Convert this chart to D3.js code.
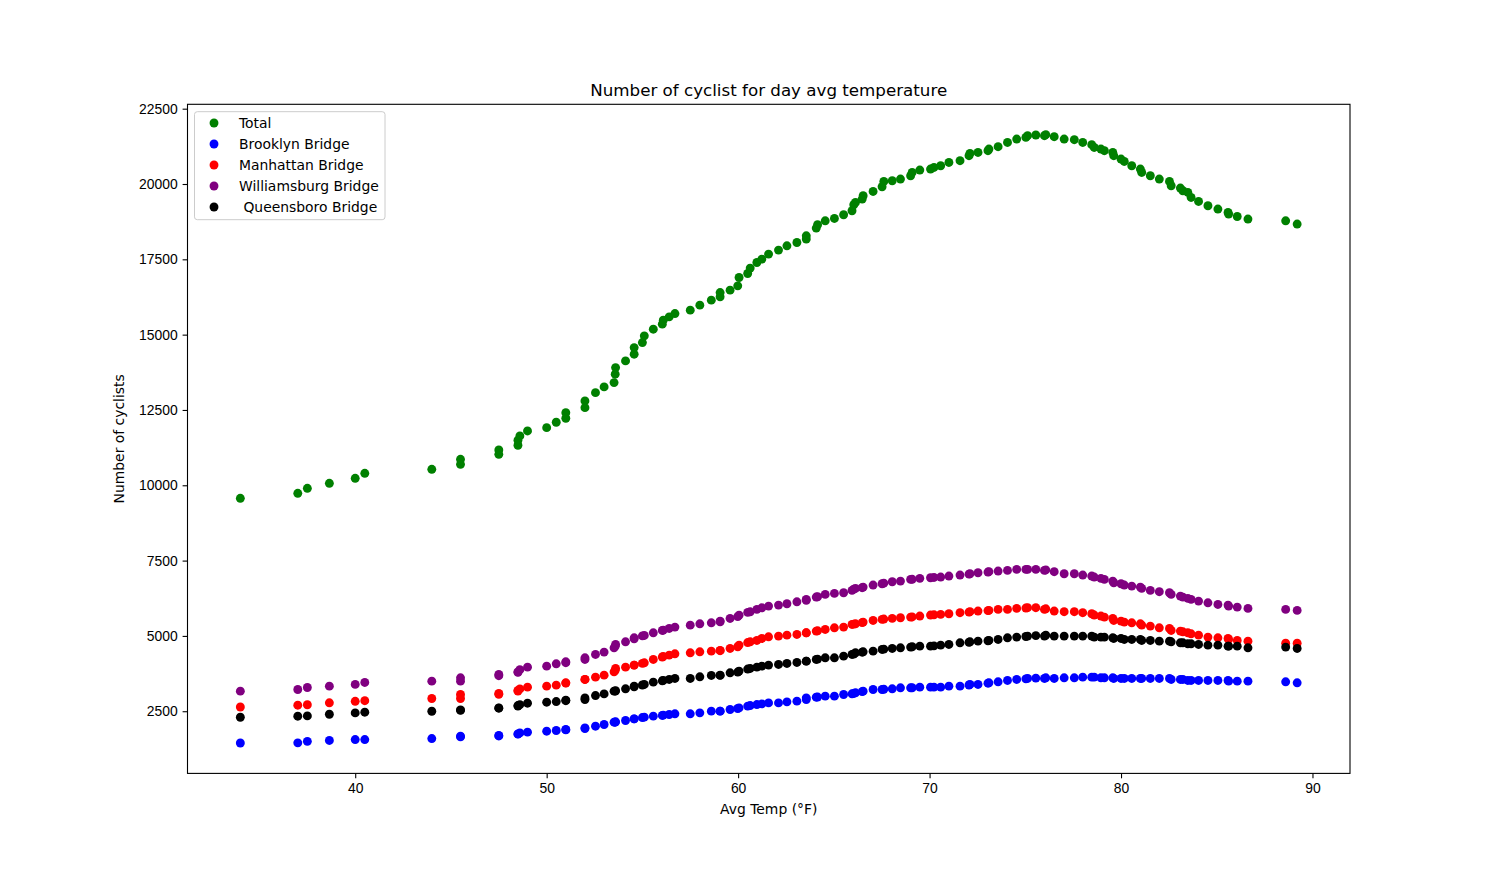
<!DOCTYPE html>
<html lang="en">
<head>
	<meta charset="UTF-8">
	<title>Number of cyclist for day avg temperature</title>
	<style>
		body{margin:0; background:#fff;}
		svg{display:block; font-family:"DejaVu Sans", sans-serif;}
		.tick text{font-size:13.9px; fill:#000;}
		.tick line{stroke:#000; stroke-width:1.1px;}
		.domain{display:none;}
		.legend text{font-size:13.9px; white-space:pre;}
	</style>
</head>
<body>
<div id="chart"></div>
<script src="https://d3js.org/d3.v7.min.js"></script>
<script>
	// values
	var temps = [34, 37, 37.5, 38.65, 40, 40.5, 44, 45.5, 45.5, 47.5, 47.5, 48.5, 48.5, 48.6, 49, 50, 50.5, 51, 51,
		52, 52, 52.55, 53, 53.52, 53.58, 53.6, 54.12, 54.57, 54.57, 55, 55.1, 55.57, 56.04, 56.09, 56.4, 56.7,
		57.5, 58, 58.6, 59.06, 59.06, 59.58, 59.98, 60.05, 60.5, 60.63, 60.98, 61.24, 61.59, 62.11, 62.55, 63.07,
		63.56, 63.56, 64.08, 64.15, 64.55, 65.03, 65.51, 65.95, 66.04, 66.13, 66.48, 66.53, 67.05, 67.52, 67.61,
		68.05, 68.48, 69.01, 69.09, 69.49, 70.05, 70.23, 70.58, 71.01, 71.59, 72.06, 72.11, 72.53, 73.05, 73.1,
		73.58, 74.07, 74.55, 75.03, 75.12, 75.55, 76, 76.07, 76.51, 77.03, 77.56, 78, 78.47, 78.6, 78.95, 79.13,
		79.57, 79.62, 80, 80.17, 80.56, 81.01, 81.08, 81.53, 82, 82.53, 82.62, 83.1, 83.23, 83.49, 83.66, 84.05,
		84.54, 85.06, 85.59, 85.62, 86.07, 86.63, 88.6, 89.2];

	var total = [9567, 9733, 9900, 10066, 10232, 10398, 10531, 10697, 10863, 11029, 11172, 11328, 11494, 11637, 11803, 11913, 12092, 12225, 12411,
		12577, 12800, 13075, 13265, 13408, 13687, 13906, 14129, 14351, 14570, 14737, 14959, 15181, 15348, 15481, 15590, 15700,
		15813, 15979, 16145, 16255, 16397, 16477, 16620, 16896, 17029, 17208, 17394, 17507, 17673, 17806, 17949, 18059,
		18171, 18281, 18537, 18647, 18779, 18856, 18979, 19112, 19311, 19387, 19500, 19610, 19753, 19909, 20085,
		20108, 20165, 20274, 20384, 20464, 20497, 20550, 20606, 20716, 20773, 20939, 21015, 21048, 21105, 21161,
		21238, 21380, 21493, 21547, 21603, 21626, 21603, 21636, 21570, 21493, 21470, 21380, 21304, 21214, 21161, 21105,
		21048, 20939, 20829, 20749, 20606, 20497, 20384, 20274, 20165, 20085, 19942, 19866, 19776, 19720, 19553, 19421,
		19278, 19168, 19055, 19002, 18922, 18836, 18779, 18670];

	var brooklyn = [1446, 1450, 1500, 1530, 1560, 1560, 1594, 1650, 1672, 1680, 1694, 1740, 1749, 1780, 1805, 1838, 1860, 1880, 1893,
		1926, 1948, 2003, 2059, 2136, 2136, 2150, 2192, 2247, 2247, 2290, 2303, 2336, 2360, 2370, 2392, 2414,
		2414, 2447, 2502, 2502, 2502, 2558, 2590, 2611, 2670, 2689, 2722, 2744, 2777, 2777, 2811, 2834,
		2889, 2944, 2966, 2970, 3000, 3000, 3056, 3078, 3090, 3111, 3150, 3166, 3222, 3222, 3230,
		3244, 3277, 3277, 3280, 3299, 3299, 3300, 3299, 3333, 3333, 3370, 3389, 3389, 3430, 3444,
		3477, 3522, 3555, 3575, 3588, 3600, 3588, 3610, 3588, 3610, 3610, 3632, 3632, 3632, 3610, 3610,
		3610, 3588, 3588, 3588, 3588, 3588, 3588, 3588, 3588, 3588, 3555, 3555, 3555, 3522, 3522, 3522,
		3522, 3522, 3522, 3499, 3499, 3499, 3477, 3444];

	var manhattan = [2640, 2700, 2715, 2780, 2830, 2850, 2922, 2922, 3056, 3060, 3089, 3170, 3189, 3240, 3300, 3333, 3366, 3433, 3444,
		3555, 3555, 3632, 3698, 3809, 3860, 3920, 3964, 4031, 4031, 4090, 4108, 4219, 4300, 4319, 4362, 4407,
		4440, 4473, 4495, 4510, 4518, 4584, 4640, 4695, 4780, 4805, 4849, 4915, 4970, 4993, 5026, 5048,
		5103, 5103, 5159, 5170, 5215, 5270, 5292, 5381, 5390, 5403, 5440, 5459, 5514, 5548, 5560,
		5581, 5603, 5625, 5630, 5659, 5692, 5700, 5714, 5736, 5770, 5790, 5803, 5825, 5840, 5847,
		5880, 5880, 5914, 5925, 5936, 5936, 5880, 5900, 5825, 5803, 5803, 5770, 5736, 5692, 5659, 5625,
		5581, 5514, 5492, 5459, 5436, 5403, 5359, 5325, 5270, 5248, 5181, 5159, 5137, 5103, 5070, 5026,
		4960, 4937, 4915, 4882, 4849, 4827, 4760, 4760];

	var williamsburg = [3166, 3222, 3288, 3333, 3390, 3455, 3499, 3499, 3610, 3680, 3721, 3790, 3808, 3880, 3964, 3997, 4075, 4110, 4141,
		4218, 4274, 4385, 4462, 4605, 4660, 4716, 4804, 4904, 4937, 5000, 5016, 5103, 5181, 5190, 5247, 5292,
		5358, 5402, 5436, 5470, 5492, 5580, 5640, 5690, 5780, 5800, 5880, 5933, 5990, 6023, 6067, 6133,
		6180, 6213, 6290, 6300, 6378, 6411, 6433, 6511, 6550, 6578, 6600, 6621, 6688, 6732, 6750,
		6798, 6820, 6876, 6880, 6910, 6931, 6940, 6954, 6987, 7020, 7050, 7064, 7097, 7120, 7131,
		7153, 7175, 7208, 7208, 7208, 7208, 7175, 7190, 7131, 7064, 7064, 7020, 6987, 6954, 6910, 6876,
		6820, 6765, 6732, 6688, 6654, 6621, 6578, 6511, 6467, 6433, 6378, 6322, 6289, 6245, 6212, 6156,
		6100, 6045, 6023, 5990, 5956, 5914, 5880, 5847];

	var queensboro = [2300, 2335, 2345, 2400, 2444, 2467, 2500, 2530, 2545, 2600, 2611, 2670, 2689, 2720, 2766, 2799, 2822, 2850, 2866,
		2888, 2943, 3021, 3076, 3166, 3166, 3180, 3244, 3310, 3333, 3370, 3389, 3466, 3510, 3522, 3555, 3588,
		3588, 3643, 3688, 3690, 3698, 3776, 3800, 3832, 3900, 3920, 3964, 3997, 4031, 4053, 4086, 4119,
		4163, 4163, 4219, 4230, 4274, 4274, 4329, 4385, 4400, 4440, 4460, 4473, 4495, 4551, 4560,
		4584, 4606, 4628, 4640, 4661, 4661, 4670, 4694, 4716, 4772, 4790, 4805, 4827, 4840, 4849,
		4882, 4937, 4960, 4980, 4993, 5010, 4993, 5026, 4993, 4993, 4993, 4993, 4993, 4960, 4960, 4960,
		4937, 4915, 4915, 4882, 4882, 4882, 4849, 4849, 4827, 4827, 4805, 4772, 4772, 4738, 4738, 4716,
		4694, 4694, 4661, 4661, 4661, 4606, 4628, 4584];

	var seriesNames = ['Total', 'Brooklyn Bridge', 'Manhattan Bridge', 'Williamsburg Bridge', ' Queensboro Bridge'];
	var seriesColors = ['green', 'blue', 'red', 'purple', 'black'];
	var seriesValues = [total, brooklyn, manhattan, williamsburg, queensboro];

	var xTicks = [40, 50, 60, 70, 80, 90];
	var yTicks = [2500, 5000, 7500, 10000, 12500, 15000, 17500, 20000, 22500];

	var W = 1500, H = 869;
	var margin = {left:187.5, right:150, top:104.3, bottom:95.6};
	var pw = W - margin.left - margin.right,
		ph = H - margin.top - margin.bottom;

	// matplotlib style 5% padding around the data
	function padded(ext){
		var d = (ext[1] - ext[0]) * 0.05;
		return [ext[0] - d, ext[1] + d];
	}
	var allY = d3.merge(seriesValues);
	var x = d3.scaleLinear().domain(padded(d3.extent(temps))).range([0, pw]);
	var y = d3.scaleLinear().domain(padded(d3.extent(allY))).range([ph, 0]);

	var svg = d3.select('#chart').append('svg')
		.attr('width', W)
		.attr('height', H);

	var g = svg.append('g')
		.attr('transform', 'translate(' + margin.left + ',' + margin.top + ')');

	// points, drawn in series order like the original
	seriesValues.forEach(function(vals, si){
		g.append('g')
			.selectAll('circle')
			.data(temps.map(function(t, i){ return {t:t, v:vals[i]}; }))
			.enter()
				.append('circle')
				.attr('cx', d => x(d.t))
				.attr('cy', d => y(d.v))
				.attr('r', 4.45)
				.attr('fill', seriesColors[si]);
	});

	g.append('g')
		.attr('transform', 'translate(0,' + ph + ')')
		.call(d3.axisBottom(x).tickValues(xTicks).tickSize(4.9).tickPadding(4.9).tickFormat(d3.format('d')));

	g.append('g')
		.call(d3.axisLeft(y).tickValues(yTicks).tickSize(4.9).tickPadding(4.9).tickFormat(d3.format('d')));

	// frame
	g.append('rect')
		.attr('width', pw)
		.attr('height', ph)
		.attr('fill', 'none')
		.attr('stroke', '#000')
		.attr('stroke-width', 1.1);

	svg.append('text')
		.attr('x', margin.left + pw / 2)
		.attr('y', margin.top - 8.3)
		.attr('text-anchor', 'middle')
		.style('font-size', '16.7px')
		.text('Number of cyclist for day avg temperature');

	svg.append('text')
		.attr('x', margin.left + pw / 2)
		.attr('y', 814)
		.attr('text-anchor', 'middle')
		.style('font-size', '13.9px')
		.text('Avg Temp (°F)');

	svg.append('text')
		.attr('transform', 'translate(124,' + (margin.top + ph / 2) + ') rotate(-90)')
		.attr('text-anchor', 'middle')
		.style('font-size', '13.9px')
		.text('Number of cyclists');

	// legend
	var legend = svg.append('g')
		.attr('class', 'legend')
		.attr('transform', 'translate(194.5,111.7)');

	legend.append('rect')
		.attr('width', 190.5)
		.attr('height', 108)
		.attr('rx', 2.8)
		.attr('fill', '#fff')
		.attr('fill-opacity', 0.8)
		.attr('stroke', '#ccc')
		.attr('stroke-width', 1);

	var item = legend.selectAll('.item')
		.data(seriesNames)
		.enter()
			.append('g')
			.attr('class', 'item')
			.attr('transform', (d, i) => 'translate(0,' + (11.3 + i * 21) + ')');

	item.append('circle')
		.attr('cx', 19.5)
		.attr('cy', 0)
		.attr('r', 4.45)
		.attr('fill', (d, i) => seriesColors[i]);

	item.append('text')
		.attr('x', 44.5)
		.attr('y', 5)
		.text(d => d);
</script>
</body>
</html>
